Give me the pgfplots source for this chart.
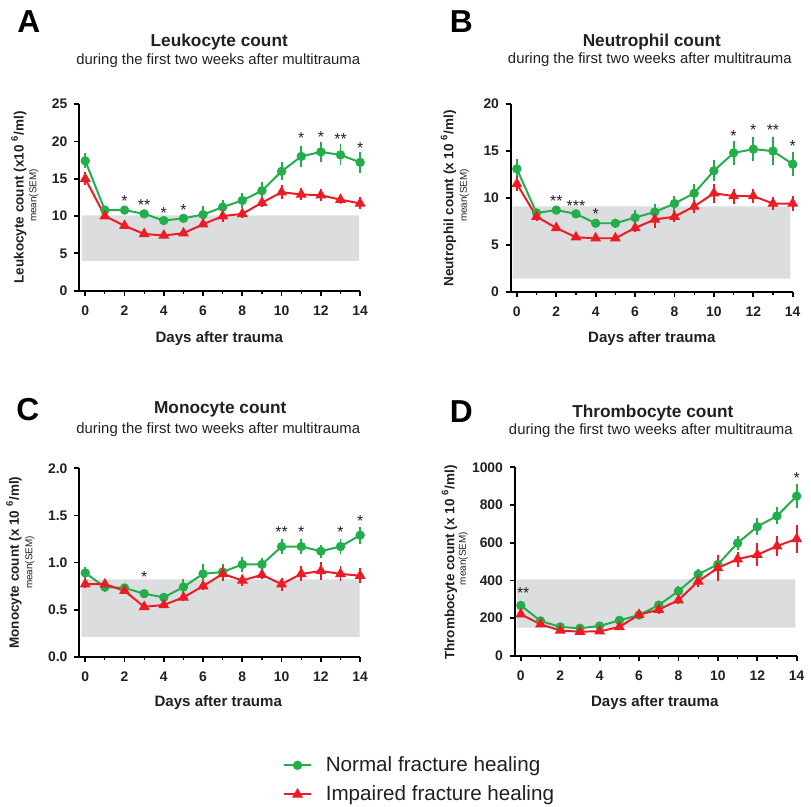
\documentclass[border=0pt]{standalone}
\usepackage{fontspec}
\setmainfont{Liberation Sans}
\usepackage{pgfplots}
\usepackage{pgfplotstable}
\pgfplotsset{compat=1.18}

\definecolor{gcol}{HTML}{22AE4B}
\definecolor{rcol}{HTML}{EC1C24}
\definecolor{band}{HTML}{DCDDDE}
\definecolor{txt}{HTML}{231F20}

% day, normal mean, normal SEM, impaired mean, impaired SEM
\pgfplotstableread{
d g ge r re
0 17.4 1.0 15.0 0.9
1 10.8 0.4 10.0 0.4
2 10.8 0.3 8.7 0.3
3 10.3 0.3 7.6 0.3
4 9.4 0.3 7.4 0.3
5 9.7 0.5 7.7 0.3
6 10.2 1.1 8.9 0.4
7 11.2 0.9 10.0 0.8
8 12.1 1.0 10.3 0.5
9 13.4 1.2 11.8 0.6
10 16.0 1.2 13.2 0.9
11 18.0 1.4 12.9 0.8
12 18.6 1.3 12.8 0.8
13 18.2 1.4 12.2 0.6
14 17.2 1.4 11.7 0.8
}\leuko
\pgfplotstableread{
d g ge r re
0 13.1 1.0 11.5 0.8
1 8.4 0.4 8.0 0.5
2 8.7 0.4 6.8 0.3
3 8.3 0.4 5.8 0.2
4 7.3 0.3 5.7 0.3
5 7.3 0.5 5.7 0.2
6 7.9 0.8 6.8 0.4
7 8.5 0.8 7.7 0.9
8 9.4 0.8 8.0 0.6
9 10.5 1.0 9.1 0.7
10 12.9 1.1 10.5 1.0
11 14.8 1.3 10.2 0.8
12 15.2 1.3 10.2 0.7
13 15.0 1.5 9.4 0.7
14 13.6 1.3 9.4 0.8
}\neutro
\pgfplotstableread{
d g ge r re
0 0.89 0.06 0.77 0.04
1 0.74 0.05 0.77 0.06
2 0.73 0.03 0.70 0.03
3 0.67 0.03 0.53 0.02
4 0.63 0.03 0.55 0.03
5 0.74 0.08 0.63 0.04
6 0.88 0.10 0.75 0.04
7 0.90 0.08 0.88 0.08
8 0.98 0.08 0.81 0.06
9 0.98 0.07 0.87 0.05
10 1.17 0.08 0.77 0.07
11 1.17 0.08 0.88 0.08
12 1.12 0.07 0.91 0.10
13 1.17 0.08 0.88 0.08
14 1.29 0.09 0.86 0.08
}\mono
\pgfplotstableread{
d g ge r re
0 267 15 220 12
1 185 10 167 10
2 153 8 134 8
3 146 8 128 10
4 158 8 130 8
5 188 10 153 10
6 216 12 218 15
7 269 18 245 25
8 343 25 295 20
9 432 30 395 30
10 485 30 466 70
11 598 35 513 40
12 685 45 536 60
13 742 45 582 55
14 847 65 620 75
}\thrombo

\pgfplotsset{
  panel/.style={
    scale only axis, anchor=south west, clip=false,
    axis lines=left, axis line style={-, line width=0.9pt, black},
    xmin=-0.3, xmax=14, ymin=0,
    xtick={0,2,...,14}, minor xtick={1,3,...,13},
    tick align=outside, major tick length=2.5pt, minor tick length=1.5pt,
    every tick/.style={black, line width=0.9pt},
    every minor tick/.style={black, line width=0.6pt},
    tick label style={font=\bfseries\fontsize{7}{8}\selectfont, text=txt},
    /pgf/number format/assume math mode=true,
    /pgf/number format/1000 sep={},
    xticklabel style={yshift=-1.5pt},
  },
  gline/.style={gcol, line width=1pt, mark=*, mark size=2.1pt,
    mark options={solid, fill=gcol, draw=gcol, line width=0.5pt}},
  rline/.style={rcol, line width=1pt, mark=triangle*, mark size=2.7pt,
    mark options={solid, fill=rcol, draw=rcol, line width=0.5pt}},
  ebar/.style={error bars/.cd, y dir=both, y explicit, error mark=none,
    error bar style={line width=1pt}},
  stars/.style={draw=none, mark=none, nodes near coords,
    point meta=explicit symbolic,
    every node near coord/.append style={anchor=base, yshift=-4.4pt,
      inner sep=0pt, font=\fontsize{8}{8}\selectfont, text=txt}},
}

\newcommand\ttl[3]{%
  \node[font=\bfseries\fontsize{8.7}{10}\selectfont, text=txt] at (#1,#2) {#3};}
\newcommand\sub[2]{%
  \node[font=\fontsize{7.5}{9}\selectfont, text=txt] at (#1,#2)
    {during the first two weeks after multitrauma};}
\newcommand\xlab[2]{%
  \node[font=\bfseries\fontsize{7.6}{9}\selectfont, text=txt] at (#1,#2) {Days after trauma};}
\newcommand\ylab[5]{%
  \node[rotate=90, font=\bfseries\fontsize{6.8}{8}\selectfont, text=txt] at (#1,#3) {#5};
  \node[rotate=90, font=\fontsize{5}{6}\selectfont, text=txt] at (#2,#4) {mean(SEM)};}
\newcommand\letter[3]{%
  \node[font=\bfseries\fontsize{16}{18}\selectfont, text=black] at (#1,#2) {#3};}

\begin{document}
\begin{tikzpicture}
\begin{scope}[x=0.5pt, y=-0.5pt]
\path[use as bounding box] (0,0) rectangle (811,807);
\letter{29}{22}{A}
\letter{465}{22}{B}
\letter{28}{413}{C}
\letter{465}{415}{D}
\ttl{221}{42}{Leukocyte count}
\sub{220}{61}
\ttl{657}{42}{Neutrophil count}
\sub{655}{60}
\ttl{222}{413}{Monocyte count}
\sub{220}{433}
\ttl{658}{416}{Thrombocyte count}
\sub{656}{434}
\xlab{221}{341}
\xlab{657}{341}
\xlab{220}{708}
\xlab{660}{708}
\ylab{19}{34}{199}{197}{Leukocyte count (x10 \textsuperscript{6}/ml)}
\ylab{452}{468}{200}{197}{Neutrophil count (x 10 \textsuperscript{6}/ml)}
\ylab{14}{30}{567}{567}{Monocyte count (x 10 \textsuperscript{6}/ml)}
\ylab{453}{467}{567}{563}{Thrombocyte count (x 10 \textsuperscript{6}/ml)}
\end{scope}

% A: leukocytes
\begin{axis}[panel, at={(40pt,-146.5pt)}, width=141.5pt, height=94pt,
  ymax=25, ytick={0,5,...,25}]
\addplot[draw=none, fill=band] coordinates {(-0.17,4) (13.95,4) (13.95,10.1) (-0.17,10.1) (-0.17,4)};
\addplot[gline, ebar] table[x=d, y=g, y error=ge] {\leuko};
\addplot[rline, ebar] table[x=d, y=r, y error=re] {\leuko};
\addplot[stars] table[meta=s] {
x y s
2 12.5 *
3 11.9 **
4 10.8 *
5 11.2 *
11 20.9 *
12 21.1 *
13 20.8 **
14 19.6 *
};
\end{axis}

% B: neutrophils
\begin{axis}[panel, at={(257.5pt,-147pt)}, width=142pt, height=94.5pt,
  ymax=20, ytick={0,5,...,20}]
\addplot[draw=none, fill=band] coordinates {(-0.22,1.4) (13.88,1.4) (13.88,9.1) (-0.22,9.1) (-0.22,1.4)};
\addplot[gline, ebar] table[x=d, y=g, y error=ge] {\neutro};
\addplot[rline, ebar] table[x=d, y=r, y error=re] {\neutro};
\addplot[stars] table[meta=s] {
x y s
2 10.0 **
3 9.5 ***
4 8.6 *
11 17.0 *
12 17.6 *
13 17.6 **
14 15.9 *
};
\end{axis}

% C: monocytes
\begin{axis}[panel, at={(40pt,-331pt)}, width=141.5pt, height=95pt,
  ymax=2, ytick={0,0.5,...,2},
  yticklabel style={/pgf/number format/.cd, fixed, fixed zerofill, precision=1}]
\addplot[draw=none, fill=band] coordinates {(-0.18,0.21) (13.97,0.21) (13.97,0.82) (-0.18,0.82) (-0.18,0.21)};
\addplot[gline, ebar] table[x=d, y=g, y error=ge] {\mono};
\addplot[rline, ebar] table[x=d, y=r, y error=re] {\mono};
\addplot[stars] table[meta=s] {
x y s
3 0.886 *
10 1.36 **
11 1.36 *
13 1.36 *
14 1.48 *
};
\end{axis}

% D: thrombocytes
\begin{axis}[panel, at={(259.5pt,-330.5pt)}, width=142pt, height=95pt,
  ymax=1000, ytick={0,200,...,1000}]
\addplot[draw=none, fill=band] coordinates {(-0.2,149) (13.93,149) (13.93,406) (-0.2,406) (-0.2,149)};
\addplot[gline, ebar] table[x=d, y=g, y error=ge] {\thrombo};
\addplot[rline, ebar] table[x=d, y=r, y error=re] {\thrombo};
\addplot[stars] table[meta=s] {
x y s
0.12 348 **
14 960 *
};
\end{axis}

% legend
\begin{axis}[hide axis, scale only axis, width=20pt, height=20pt,
  xmin=0, xmax=1, ymin=0, ymax=1, at={(142.5pt,-393pt)}, anchor=west,
  legend style={at={(0,0.5)}, anchor=west, draw=none, fill=none,
    inner sep=0pt, row sep=2.6pt, font=\fontsize{10.4}{12}\selectfont,
    text=txt, nodes={inner sep=1.5pt},
    /tikz/every odd column/.append style={column sep=5.5pt}},
  legend cell align=left,
  legend image code/.code={\draw[mark repeat=2, mark phase=2]
    plot coordinates {(0pt,0pt) (6.75pt,0pt) (13.5pt,0pt)};}]
\addlegendimage{gline}
\addlegendentry{Normal fracture healing}
\addlegendimage{rline}
\addlegendentry{Impaired fracture healing}
\end{axis}
\end{tikzpicture}
\end{document}
